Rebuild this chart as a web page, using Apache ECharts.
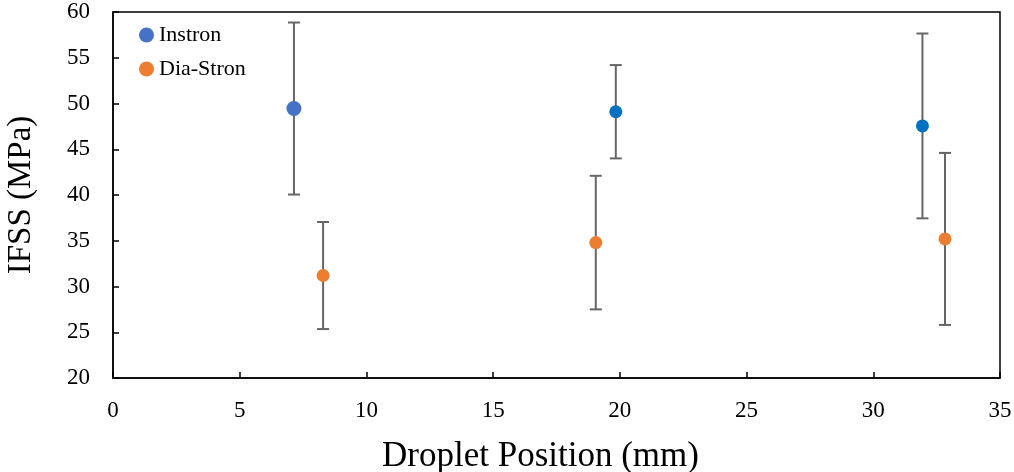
<!DOCTYPE html>
<html><head><meta charset="utf-8">
<script src="https://cdn.jsdelivr.net/npm/echarts@6/dist/echarts.min.js"></script>
<style>html,body{margin:0;padding:0;background:#fff}#c{width:1014px;height:472px}</style>
</head><body><div id="c"></div>
<script>
var instronX = [7.14, 19.84, 31.94];
var instronY = [49.45, 49.1, 47.55];
var instronErr = [9.4, 5.1, 10.1];
var diaX = [8.29, 19.05, 32.83];
var diaY = [31.2, 34.8, 35.2];
var diaErr = [5.85, 7.3, 9.4];
var xTicks = [0, 5, 10, 15, 20, 25, 30, 35];
var yTicks = [20, 25, 30, 35, 40, 45, 50, 55, 60];

var FONT = '"Liberation Serif", "Times New Roman", serif';
function pts(xs, ys){ return xs.map(function(x,i){ return [x, ys[i]]; }); }
function errData(xs, ys, es){ return xs.map(function(x,i){ return [x, ys[i]-es[i], ys[i]+es[i]]; }); }
function errRender(params, api){
  var lo = api.coord([api.value(0), api.value(1)]);
  var hi = api.coord([api.value(0), api.value(2)]);
  var w = 6;
  var st = {stroke:'#666666', lineWidth:2};
  return {type:'group', children:[
    {type:'line', shape:{x1:lo[0],y1:lo[1],x2:hi[0],y2:hi[1]}, style:st},
    {type:'line', shape:{x1:lo[0]-w,y1:lo[1],x2:lo[0]+w,y2:lo[1]}, style:st},
    {type:'line', shape:{x1:hi[0]-w,y1:hi[1],x2:hi[0]+w,y2:hi[1]}, style:st}
  ]};
}
var instronPts = pts(instronX, instronY).map(function(p,i){
  return i===0 ? {value:p, symbolSize:15, itemStyle:{color:'#4472C4'}} : {value:p, symbolSize:13, itemStyle:{color:'#0070C0'}};
});
var chart = echarts.init(document.getElementById('c'));
chart.setOption({
  animation:false,
  grid:{left:113, right:14, top:12, bottom:94, show:true, borderColor:'#000', borderWidth:1.5, outerBoundsMode:'none', containLabel:false},
  legend:{
    orient:'vertical', left:134, top:19, itemGap:12, itemWidth:15, itemHeight:15,
    textStyle:{fontFamily:FONT, fontSize:22, color:'#000'},
    data:[{name:'Instron', icon:'circle', itemStyle:{color:'#4472C4'}},{name:'Dia-Stron', icon:'circle', itemStyle:{color:'#ED7D31'}}]
  },
  xAxis:{
    type:'value', min:0, max:35, interval:5,
    name:'Droplet Position (mm)', nameLocation:'middle', nameGap:61,
    nameTextStyle:{fontFamily:FONT, fontSize:35, color:'#000', padding:[0, 32, 0, 0]},
    axisLine:{show:true, lineStyle:{color:'#000', width:1.5}},
    axisTick:{show:true, inside:true, length:6, lineStyle:{color:'#000', width:1.5}},
    axisLabel:{fontFamily:FONT, fontSize:23, color:'#000', margin:21,
      formatter:function(v){ return xTicks.indexOf(v)>=0 ? String(v) : ''; }},
    splitLine:{show:false}
  },
  yAxis:{
    type:'value', min:20, max:60, interval:5,
    name:'IFSS (MPa)', nameLocation:'middle', nameGap:75, nameRotate:90,
    nameTextStyle:{fontFamily:FONT, fontSize:33, color:'#000'},
    axisLine:{show:true, lineStyle:{color:'#000', width:1.5}},
    axisTick:{show:true, inside:true, length:6, lineStyle:{color:'#000', width:1.5}},
    axisLabel:{fontFamily:FONT, fontSize:23, color:'#000', margin:23,
      formatter:function(v){ return yTicks.indexOf(v)>=0 ? String(v) : ''; }},
    splitLine:{show:false}
  },
  series:[
    {type:'custom', name:'instronErr', renderItem:errRender, data:errData(instronX, instronY, instronErr), z:1, silent:true},
    {type:'custom', name:'diaErr', renderItem:errRender, data:errData(diaX, diaY, diaErr), z:1, silent:true},
    {type:'scatter', name:'Instron', data:instronPts, symbol:'circle', itemStyle:{color:'#4472C4', opacity:1}, z:3},
    {type:'scatter', name:'Dia-Stron', data:pts(diaX, diaY), symbol:'circle', symbolSize:13, itemStyle:{color:'#ED7D31', opacity:1}, z:3}
  ]
});
</script></body></html>
